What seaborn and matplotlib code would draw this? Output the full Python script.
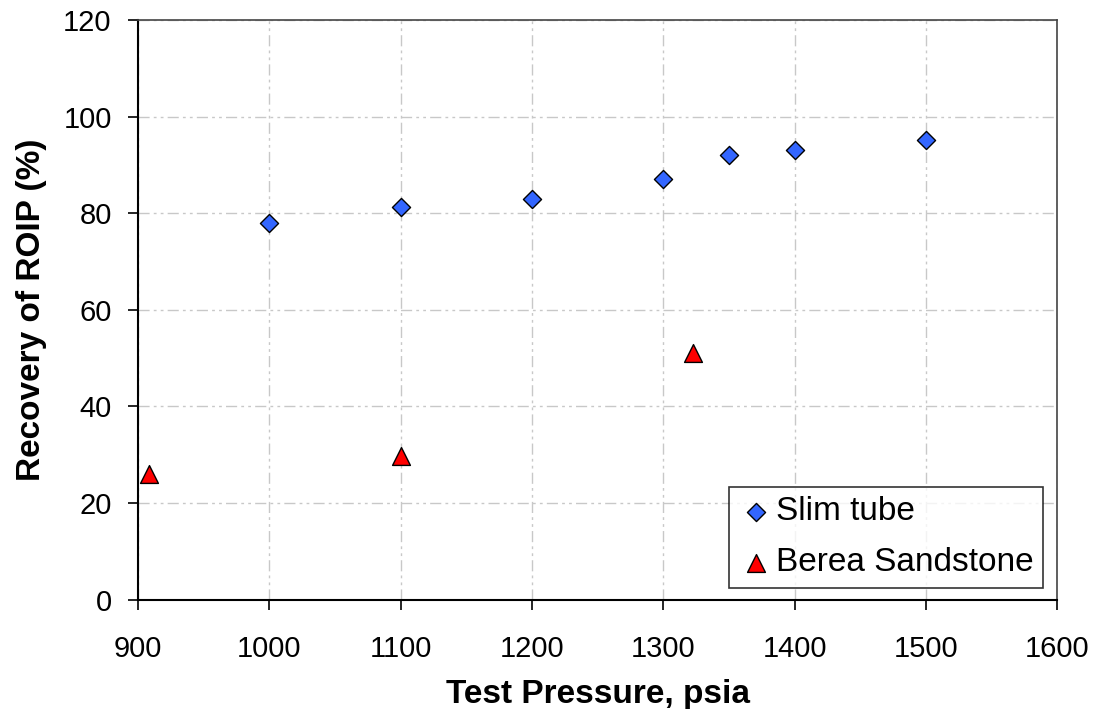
import numpy as np
import pandas as pd
import matplotlib
matplotlib.use("Agg")
import matplotlib.pyplot as plt
import seaborn as sns

# Data
slim_pressure = [1000, 1100, 1200, 1300, 1350, 1400, 1500]
slim_recovery = [78.0, 81.3, 83.0, 87.0, 92.0, 93.0, 95.2]
berea_pressure = [908, 1100, 1323]
berea_recovery = [26.0, 29.8, 51.0]

x_ticks = [900, 1000, 1100, 1200, 1300, 1400, 1500, 1600]
y_ticks = [0, 20, 40, 60, 80, 100, 120]

slim = pd.DataFrame({'Pressure': slim_pressure, 'Recovery': slim_recovery, 'Sample': 'Slim tube'})
berea = pd.DataFrame({'Pressure': berea_pressure, 'Recovery': berea_recovery, 'Sample': 'Berea Sandstone'})

sns.set_style("white")
plt.rcParams['font.family'] = ['Liberation Sans', 'DejaVu Sans']
for key in ['text.color', 'axes.labelcolor', 'xtick.color', 'ytick.color']:
    plt.rcParams[key] = 'black'

fig, ax = plt.subplots(figsize=(10.96, 7.09), dpi=100)
fig.subplots_adjust(left=0.126, right=0.9645, top=0.972, bottom=0.154)

# diamonds a bit smaller than triangles, as in the original
sns.scatterplot(data=slim, x='Pressure', y='Recovery', label='Slim tube', marker='D',
                color='#3366FF', s=85, edgecolor='black', linewidth=1.0, ax=ax, zorder=3)
sns.scatterplot(data=berea, x='Pressure', y='Recovery', label='Berea Sandstone', marker='^',
                color='#FF0000', s=165, edgecolor='black', linewidth=1.0, ax=ax, zorder=3)

ax.set_xlim(900, 1600)
ax.set_ylim(0, 120)
ax.set_xticks(x_ticks)
ax.set_yticks(y_ticks)
ax.grid(True, color='#c8c8c8', linestyle=(0, (8, 3, 2, 3, 2, 3)), linewidth=1.0)
ax.set_axisbelow(True)

for side in ['left', 'bottom']:
    ax.spines[side].set_color('black')
    ax.spines[side].set_linewidth(1.5)
for side in ['top', 'right']:
    ax.spines[side].set_color('#444444')
    ax.spines[side].set_linewidth(1.2)

ax.tick_params(axis='both', labelsize=21, direction='out', length=7, width=1.2,
               left=True, bottom=True, color='black')
ax.tick_params(axis='x', pad=18)
ax.tick_params(axis='y', pad=12)
ax.set_xlabel('Test Pressure, psia', fontsize=24, fontweight='bold', labelpad=12)
ax.set_ylabel('Recovery of ROIP (%)', fontsize=24, fontweight='bold', labelpad=12)

leg = ax.legend(loc='lower right', bbox_to_anchor=(0.985, 0.021), fontsize=24, frameon=True,
                fancybox=False, edgecolor='black', handletextpad=0.05, handlelength=1.1,
                borderpad=0.28, labelspacing=0.6, borderaxespad=0, markerscale=1.0)
leg.get_frame().set_linewidth(1.2)

plt.savefig('out.png', dpi=100)
plt.close()
